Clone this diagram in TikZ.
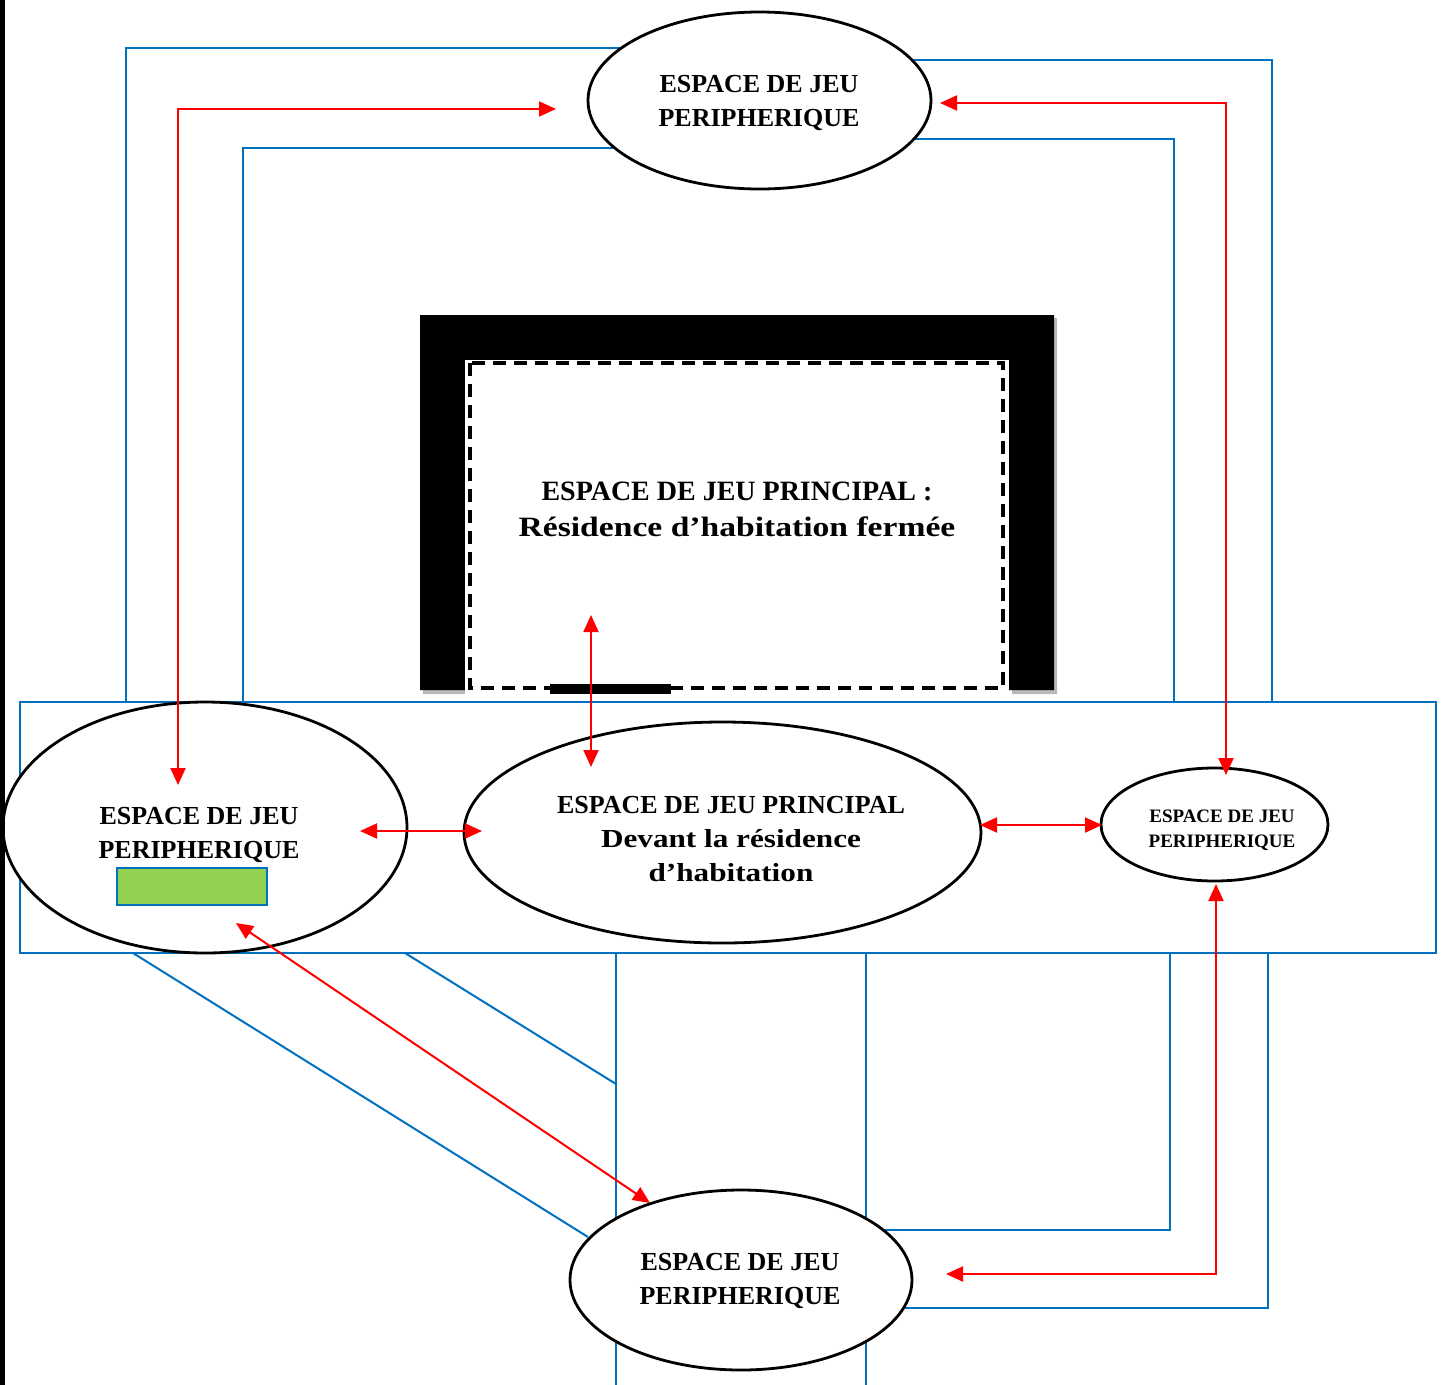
\documentclass[tikz,border=0pt]{standalone}
\usepackage{fontspec}
\setmainfont{Liberation Serif}
\newfontfamily\widefont[FakeStretch=1.2]{Liberation Serif}
\usetikzlibrary{shapes.geometric,arrows.meta}
\definecolor{roadblue}{HTML}{0070C0}
\definecolor{arrred}{HTML}{FF0000}
\definecolor{grassgreen}{HTML}{92D050}
\begin{document}
\begin{tikzpicture}[x=1pt,y=-1pt,
  road/.style={draw=roadblue,line width=2pt},
  link/.style={draw=arrred,line width=2pt,{Triangle[length=17pt,width=15pt]}-{Triangle[length=17pt,width=15pt]}},
  zone/.style={ellipse,draw=black,line width=2.8pt,fill=white,inner sep=0pt},
  zonetext/.style={align=center,inner sep=0pt,font=\bfseries\fontsize{26}{34}\selectfont},
]
\useasboundingbox (0,0) rectangle (1444,1385);
\fill[white] (0,0) rectangle (1444,1385);

% roads (blue)
\draw[road] (126,702) -- (126,48) -- (620,48);
\draw[road] (243,702) -- (243,148) -- (615,148);
\draw[road] (912,60) -- (1272,60) -- (1272,702);
\draw[road] (913,139) -- (1174,139) -- (1174,702);
\draw[road] (20,702) rectangle (1436,953);
\draw[road] (133,953) -- (588,1237);
\draw[road] (405,953) -- (616,1084);
\draw[road] (616,953) -- (616,1385);
\draw[road] (866,953) -- (866,1385);
\draw[road] (1170,953) -- (1170,1230) -- (880,1230);
\draw[road] (1268,953) -- (1268,1308) -- (905,1308);

% house
\fill[gray!55] (423,694) -- (423,318) -- (1057,318) -- (1057,694) -- (1012,694) -- (1012,363) -- (468,363) -- (468,694) -- cycle;
\fill[black] (420,690) -- (420,315) -- (1054,315) -- (1054,690) -- (1009,690) -- (1009,360) -- (465,360) -- (465,690) -- cycle;
\fill[white] (465,360) rectangle (1009,700);
\draw[line width=3.5pt, dash pattern=on 13pt off 8pt] (470,363) rectangle (1003,688);
\node[fill=black, minimum width=121pt, minimum height=10pt, inner sep=0pt] (door) at (610.5,688.5) {};
\node[zonetext, font=\bfseries\fontsize{28}{36}\selectfont] (house) at (737,509)
  {ESPACE DE JEU PRINCIPAL :\\{\widefont Résidence d’habitation fermée}};

% zones
\node[zone, minimum width=343pt, minimum height=177pt] (ptop) at (759.5,100.5) {};
\node[zonetext] (ptopt) at (759,102.5) {ESPACE DE JEU\\PERIPHERIQUE};
\node[zone, minimum width=404pt, minimum height=251pt] (pleft) at (205,827.5) {};
\node[zonetext] (pleftt) at (199,834.5) {ESPACE DE JEU\\PERIPHERIQUE};
\node[draw=roadblue, fill=grassgreen, minimum width=150pt, minimum height=37pt, inner sep=0pt, line width=1.5pt] (grass) at (192,886.5) {};
\node[zone, minimum width=517pt, minimum height=221pt] (pmain) at (722.5,832.5) {};
\node[zonetext] (pmaint) at (731,839)
  {ESPACE DE JEU PRINCIPAL\\{\widefont Devant la résidence}\\{\widefont d’habitation}};
\node[zone, minimum width=227pt, minimum height=113pt] (pright) at (1214.5,824.5) {};
\node[zonetext, font=\bfseries\fontsize{19}{25}\selectfont] (prightt) at (1222,830.5) {ESPACE DE JEU\\PERIPHERIQUE};
\node[zone, minimum width=342pt, minimum height=180pt] (pbottom) at (741,1280) {};
\node[zonetext] (pbottomt) at (740,1281) {ESPACE DE JEU\\PERIPHERIQUE};

% arrow end points
\coordinate (tlA) at (556,109);
\coordinate (tlB) at (178,785);
\coordinate (trA) at (940,103);
\coordinate (trB) at (1226,775);
\coordinate (hA) at (591,615);
\coordinate (hB) at (591,767);
\coordinate (lmA) at (360,831);
\coordinate (lmB) at (482,831);
\coordinate (mrA) at (980,825);
\coordinate (mrB) at (1102,825);
\coordinate (dA) at (236,923);
\coordinate (dB) at (650,1203);
\coordinate (rbA) at (1216,884);
\coordinate (rbB) at (946,1274);

% links (red)
\draw[link] (tlA) -| (tlB);
\draw[link] (trA) -| (trB);
\draw[link] (hA) -- (hB);
\draw[link] (lmA) -- (lmB);
\draw[link] (mrA) -- (mrB);
\draw[link] (dA) -- (dB);
\draw[link] (rbA) |- (rbB);

% left black edge
\fill[black] (0,0) rectangle (4.5,1385);
\end{tikzpicture}
\end{document}
